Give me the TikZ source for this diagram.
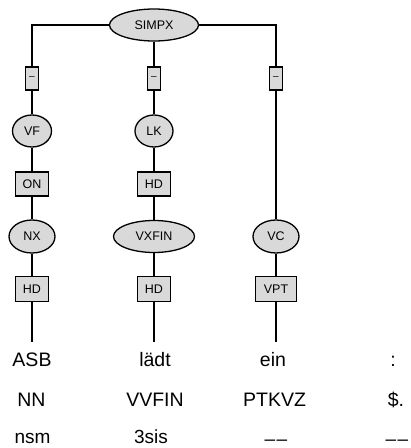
\documentclass[tikz,border=0pt]{standalone}
\usepackage{fontspec}
\setmainfont{Liberation Sans}
\usetikzlibrary{shapes.geometric}
\definecolor{nodegray}{gray}{0.85}
\tikzset{
  x=1pt, y=-1pt,
  edge/.style={line width=1.3pt},
  cat/.style={ellipse, draw, line width=1.3pt, fill=nodegray, inner sep=0pt,
    minimum height=32pt, font=\fontsize{12.5}{14}\selectfont},
  fn/.style={rectangle, draw, line width=1.3pt, fill=nodegray, inner sep=0pt,
    minimum height=24pt, font=\fontsize{12.5}{14}\selectfont},
  dash box/.style={rectangle, draw, line width=1.3pt, fill=nodegray, inner sep=0pt,
    minimum width=13pt, minimum height=23pt, font=\fontsize{10}{12}\selectfont},
  word/.style={anchor=base, inner xsep=0pt, inner ysep=10pt, text height=14pt, text depth=0pt,
    font=\fontsize{19.5}{23}\selectfont},
  tag/.style={anchor=base, inner sep=0pt, font=\fontsize{19.5}{23}\selectfont},
  morph/.style={anchor=base, inner sep=0pt, font=\fontsize{19}{23}\selectfont},
}
\newcommand{\nodash}{\raisebox{-2.5pt}{–\kern1.5pt–}}
\begin{document}
\begin{tikzpicture}
\useasboundingbox (0,0) rectangle (411,448);
% top
\node[cat, minimum width=89pt] (simpx) at (154,25) {SIMPX};
\node[dash box] (d1) at (32,78.5) {–};
\node[dash box] (d2) at (154,78.5) {–};
\node[dash box] (d3) at (276,78.5) {–};
% column 1
\node[cat, minimum width=39pt] (vf) at (32,131) {VF};
\node[fn, minimum width=33pt] (on) at (32,184) {ON};
\node[cat, minimum width=46pt, minimum height=33pt] (nx) at (32,236.5) {NX};
\node[fn, minimum width=33pt, minimum height=25pt] (hd1) at (32,289) {HD};
% column 2
\node[cat, minimum width=38pt] (lk) at (154,131) {LK};
\node[fn, minimum width=33pt] (hd2) at (154,184) {HD};
\node[cat, minimum width=81pt] (vxfin) at (154,236.5) {VXFIN};
\node[fn, minimum width=33pt, minimum height=25pt] (hd3) at (154,289) {HD};
% column 3
\node[cat, minimum width=46pt, minimum height=33pt] (vc) at (276,236.5) {VC};
\node[fn, minimum width=41pt, minimum height=25pt] (vpt) at (276,289) {VPT};
% words
\node[word] (w1) at (32,366) {ASB};
\node[word] (w2) at (155,366) {lädt};
\node[word] (w3) at (273,366) {ein};
\node[word] (w4) at (393,366) {:};
% tags
\node[tag] (t1) at (31.5,406) {NN};
\node[tag] (t2) at (155,406) {VVFIN};
\node[tag] (t3) at (274.5,406) {PTKVZ};
\node[tag] (t4) at (396,406) {\$.};
% morphology
\node[morph] (m1) at (32.5,443) {nsm};
\node[morph] (m2) at (151,443) {3sis};
\node[morph] (m3) at (276,443) {\nodash};
\node[morph] (m4) at (397,443) {\nodash};
% connectors
\begin{scope}[edge]
\draw (simpx.west) -| (d1.north);
\draw (simpx.east) -| (d3.north);
\draw (simpx) -- (d2);
\draw (d1) -- (vf) -- (on) -- (nx) -- (hd1) -- (hd1 |- w1.north);
\draw (d2) -- (lk) -- (hd2) -- (vxfin) -- (hd3) -- (hd3 |- w2.north);
\draw (d3) -- (vc) -- (vpt) -- (vpt |- w3.north);
\end{scope}
\end{tikzpicture}
\end{document}
